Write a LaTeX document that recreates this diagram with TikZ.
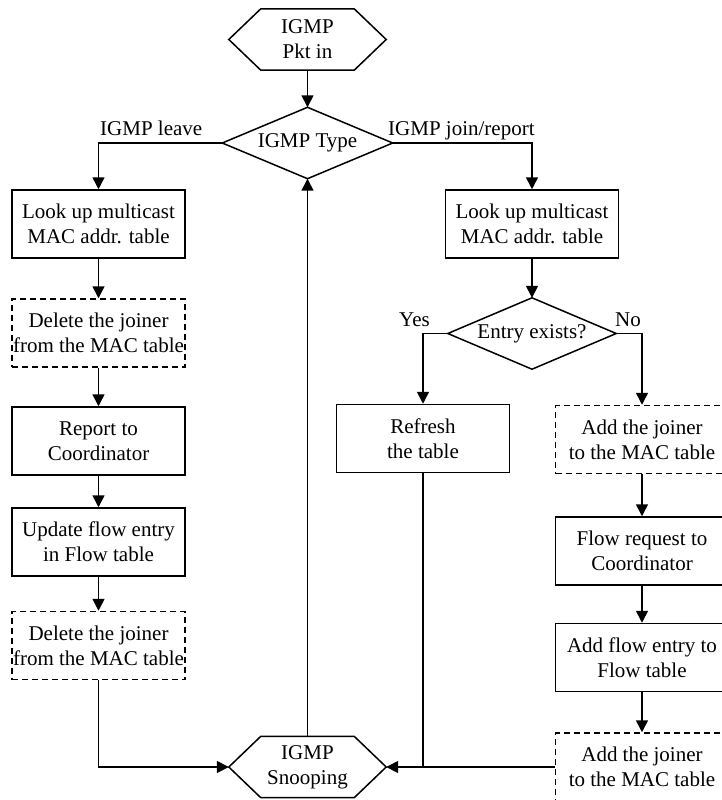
\documentclass[tikz,border=0pt]{standalone}
\usepackage{fontspec}
\setmainfont{Liberation Serif}
\usetikzlibrary{arrows.meta,calc}
\begin{document}
\begin{tikzpicture}[x=1pt,y=-1pt,
  font=\fontsize{21}{25}\selectfont,
  proc/.style={draw, line width=1.5pt, minimum width=173pt, minimum height=68pt,
               inner sep=0pt, align=center},
  dproc/.style={proc, dash pattern=on 6pt off 4pt},
  hexa/.style={minimum width=157pt, minimum height=61pt, inner sep=0pt, align=center},
  decision/.style={minimum height=71pt, inner sep=0pt, align=center},
  outline/.style={line width=1.5pt, line join=miter},
  flow/.style={-{Triangle[width=12pt,length=12pt]}, line width=1.5pt},
  link/.style={line width=1.5pt},
  lbl/.style={inner sep=0pt, anchor=base west}
]
\useasboundingbox (0,0) rectangle (722,800);
\clip (0,0) rectangle (722,800);

% terminals (hexagons drawn around plain nodes)
\node[hexa] (pktin) at (307.5,39.5) {IGMP\\Pkt in};
\node[hexa] (snoop) at (307.5,767) {IGMP\\Snooping};
\foreach \h in {pktin,snoop}{
  \draw[outline] (\h.west) -- ([xshift=32pt]\h.north west) -- ([xshift=-32pt]\h.north east)
    -- (\h.east) -- ([xshift=-32pt]\h.south east) -- ([xshift=32pt]\h.south west) -- cycle;
}

% decisions (diamonds drawn through the node anchors)
\node[decision, minimum width=170pt] (type) at (307.5,143) {IGMP Type};
\node[decision, minimum width=168pt] (entry) at (532,333.5) {Entry exists?};
\foreach \d in {type,entry}{
  \draw[outline] (\d.west) -- (\d.north) -- (\d.east) -- (\d.south) -- cycle;
}

% leave branch
\node[proc]  (L1) at (98.5,224)   {Look up multicast\\MAC addr. table};
\node[dproc] (L2) at (98.5,333)   {Delete the joiner\\from the MAC table};
\node[proc]  (L3) at (98.5,441)   {Report to\\Coordinator};
\node[proc]  (L4) at (98.5,542)   {Update flow entry\\in Flow table};
\node[dproc] (L5) at (98.5,645.5) {Delete the joiner\\from the MAC table};

% join/report branch
\node[proc]  (R1) at (532,224)    {Look up multicast\\MAC addr. table};
\node[proc]  (refresh) at (423,438.5) {Refresh\\the table};
\node[dproc] (A1) at (642,439.5)  {Add the joiner\\to the MAC table};
\node[proc]  (A2) at (642,551)    {Flow request to\\Coordinator};
\node[proc]  (A3) at (642,657.5)  {Add flow entry to\\Flow table};
\node[dproc] (A4) at (642,767)    {Add the joiner\\to the MAC table};

% branch labels
\node[lbl] (lleave) at (100,135) {IGMP leave};
\node[lbl] (ljoin) at (388,135) {IGMP join/report};
\node[lbl, anchor=base east] (lyes) at (430,326) {Yes};
\node[lbl] (lno) at (615,326) {No};

% connectors
\draw[flow] (pktin.south) -- (type.north);
\draw[flow] (type.west) -| (L1.north);
\draw[flow] (type.east) -| (R1.north);
\draw[flow] (L1) -- (L2);
\draw[flow] (L2) -- (L3);
\draw[flow] (L3) -- (L4);
\draw[flow] (L4) -- (L5);
\draw[flow] (L5.south) |- (snoop.west);
\draw[flow] (snoop.north) -- (type.south);
\draw[flow] (R1.south) -- (entry.north);
\draw[flow] (entry.west) -| (refresh.north);
\draw[flow] (entry.east) -| (A1.north);
\draw[flow] (A1) -- (A2);
\draw[flow] (A2) -- (A3);
\draw[flow] (A3) -- (A4);
\draw[flow] (A4.west) -- (snoop.east);
\draw[link] (refresh.south) -- (refresh.south |- snoop.east);
\end{tikzpicture}
\end{document}
